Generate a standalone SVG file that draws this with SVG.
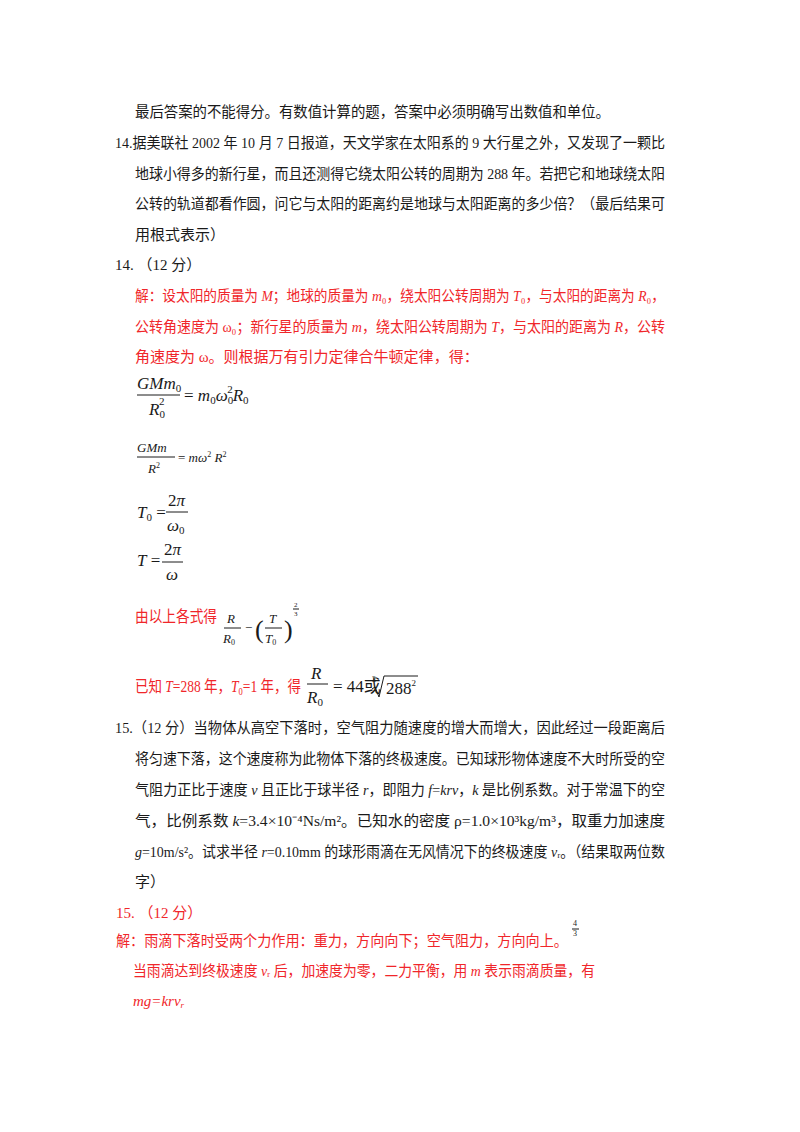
<svg xmlns="http://www.w3.org/2000/svg" width="800" height="1132" viewBox="0 0 800 1132" font-size="15">
<style>
text{font-family:"Liberation Serif","Noto Sans CJK SC",serif;fill:#1a1a1a}
.r{fill:#f0262a}
.i{font-style:italic}
.n{font-style:normal}
line{stroke:#1a1a1a;stroke-width:1}
</style>
<rect width="800" height="1132" fill="#fff"/>
<g id="problem14">
<text x="135" y="117" textLength="475" lengthAdjust="spacingAndGlyphs">最后答案的不能得分。有数值计算的题，答案中必须明确写出数值和单位。</text>
<text x="115" y="148" textLength="550" lengthAdjust="spacingAndGlyphs">14.据美联社 2002 年 10 月 7 日报道，天文学家在太阳系的 9 大行星之外，又发现了一颗比</text>
<text x="135" y="179" textLength="530" lengthAdjust="spacingAndGlyphs">地球小得多的新行星，而且还测得它绕太阳公转的周期为 288 年。若把它和地球绕太阳</text>
<text x="135" y="209" textLength="530" lengthAdjust="spacingAndGlyphs">公转的轨道都看作圆，问它与太阳的距离约是地球与太阳距离的多少倍？（最后结果可</text>
<text x="135" y="240">用根式表示）</text>
<text x="115" y="270">14. （12 分）</text>
</g>
<g id="solution14">
<text class="r" x="135" y="301" textLength="530" lengthAdjust="spacingAndGlyphs">解：设太阳的质量为 <tspan class="i">M</tspan>；地球的质量为 <tspan class="i">m</tspan>₀，绕太阳公转周期为 <tspan class="i">T</tspan>₀，与太阳的距离为 <tspan class="i">R</tspan>₀，</text>
<text class="r" x="135" y="332" textLength="530" lengthAdjust="spacingAndGlyphs">公转角速度为 ω₀；新行星的质量为 <tspan class="i">m</tspan>，绕太阳公转周期为 <tspan class="i">T</tspan>，与太阳的距离为 <tspan class="i">R</tspan>，公转</text>
<text class="r" x="135" y="362">角速度为 ω。则根据万有引力定律合牛顿定律，得：</text>
<g id="eq1">
<text x="137" y="389" class="i" font-size="17">GMm<tspan class="n" font-size="11" dy="3">0</tspan></text>
<line x1="137" y1="395" x2="180" y2="395"/>
<text x="149" y="415" class="i" font-size="17">R<tspan class="n" font-size="11" dy="3">0</tspan><tspan class="n" font-size="11" dx="-6" dy="-13">2</tspan></text>
<text x="184" y="401" font-size="17">= <tspan class="i">m</tspan><tspan font-size="11" dy="3">0</tspan><tspan class="i" dy="-3">ω</tspan><tspan font-size="11" dy="3">0</tspan><tspan font-size="11" dx="-6" dy="-11">2</tspan><tspan class="i" dy="8">R</tspan><tspan font-size="11" dy="3">0</tspan></text>
</g>
<g id="eq2">
<text x="137" y="452" class="i" font-size="13">GMm</text>
<line x1="137" y1="457" x2="175" y2="457"/>
<text x="148" y="473" class="i" font-size="13">R<tspan class="n" font-size="8" dy="-5">2</tspan></text>
<text x="178" y="462" font-size="13">= <tspan class="i">mω</tspan><tspan font-size="8" dy="-5">2</tspan><tspan class="i" dy="5"> R</tspan><tspan font-size="8" dy="-5">2</tspan></text>
</g>
<g id="eq3">
<text x="137" y="518" class="i" font-size="17">T<tspan class="n" font-size="11" dy="3">0</tspan><tspan class="n" dy="-3"> =</tspan></text>
<text x="168" y="506" font-size="17">2<tspan class="i">π</tspan></text>
<line x1="166" y1="512" x2="188" y2="512"/>
<text x="167" y="531" class="i" font-size="17">ω<tspan class="n" font-size="11" dy="3">0</tspan></text>
</g>
<g id="eq4">
<text x="137" y="566" class="i" font-size="17">T<tspan class="n"> =</tspan></text>
<text x="164" y="555" font-size="17">2<tspan class="i">π</tspan></text>
<line x1="162" y1="562" x2="183" y2="562"/>
<text x="166" y="580" class="i" font-size="17">ω</text>
</g>
<g id="eq5">
<text class="r" x="135" y="622" font-size="16" textLength="82" lengthAdjust="spacingAndGlyphs">由以上各式得</text>
<text x="227" y="623" class="i" font-size="13">R</text>
<line x1="224" y1="628" x2="241" y2="628"/>
<text x="223" y="643" class="i" font-size="13">R<tspan class="n" font-size="8" dy="2">0</tspan></text>
<text x="245" y="632" font-size="13">−</text>
<text x="255" y="638" font-size="26">(</text>
<text x="269" y="623" class="i" font-size="13">T</text>
<line x1="265" y1="628" x2="282" y2="628"/>
<text x="265" y="643" class="i" font-size="13">T<tspan class="n" font-size="8" dy="2">0</tspan></text>
<text x="284" y="638" font-size="26">)</text>
<text x="294" y="607" font-size="7">2</text>
<line x1="293" y1="609" x2="299" y2="609" stroke-width="0.6"/>
<text x="294" y="616" font-size="7">3</text>
</g>
<g id="eq6">
<text class="r" x="135" y="692" font-size="16" textLength="166" lengthAdjust="spacingAndGlyphs">已知 <tspan class="i">T</tspan>=288 年，<tspan class="i">T</tspan><tspan font-size="10" dy="3">0</tspan><tspan dy="-3">=1 年，得</tspan></text>
<text x="311" y="679" class="i" font-size="17">R</text>
<line x1="307" y1="684" x2="328" y2="684"/>
<text x="307" y="703" class="i" font-size="17">R<tspan class="n" font-size="11" dy="3">0</tspan></text>
<text x="333" y="692" font-size="17">= 44或</text>
<text x="372" y="682" font-size="8">3</text>
<path d="M372 689 L375 687 L379 697 L384 676 L418 676" fill="none" stroke="#1a1a1a" stroke-width="1"/>
<text x="386" y="694" font-size="17">288<tspan font-size="9" dy="-8">2</tspan></text>
</g>
</g>
<g id="problem15">
<text x="115" y="733" textLength="550" lengthAdjust="spacingAndGlyphs">15.（12 分）当物体从高空下落时，空气阻力随速度的增大而增大，因此经过一段距离后</text>
<text x="135" y="764" textLength="530" lengthAdjust="spacingAndGlyphs">将匀速下落，这个速度称为此物体下落的终极速度。已知球形物体速度不大时所受的空</text>
<text x="135" y="795" textLength="530" lengthAdjust="spacingAndGlyphs">气阻力正比于速度 <tspan class="i">v</tspan> 且正比于球半径 <tspan class="i">r</tspan>，即阻力 <tspan class="i">f</tspan>=<tspan class="i">krv</tspan>，<tspan class="i">k</tspan> 是比例系数。对于常温下的空</text>
<text x="135" y="826" textLength="530" lengthAdjust="spacingAndGlyphs">气，比例系数 <tspan class="i">k</tspan>=3.4×10⁻⁴Ns/m²。已知水的密度 ρ=1.0×10³kg/m³，取重力加速度</text>
<text x="135" y="857" textLength="530" lengthAdjust="spacingAndGlyphs"><tspan class="i">g</tspan>=10m/s²。试求半径 <tspan class="i">r</tspan>=0.10mm 的球形雨滴在无风情况下的终极速度 <tspan class="i">v</tspan>ᵣ。（结果取两位数</text>
<text x="135" y="887">字）</text>
</g>
<g id="solution15">
<text class="r" x="116" y="918">15. （12 分）</text>
<text class="r" x="116" y="946" textLength="452" lengthAdjust="spacingAndGlyphs">解：雨滴下落时受两个力作用：重力，方向向下；空气阻力，方向向上。</text>
<text x="573" y="926" font-size="8">4</text>
<line x1="572" y1="929" x2="579" y2="929" stroke-width="0.7"/>
<text x="573" y="936" font-size="8">3</text>
<text class="r" x="133" y="976" textLength="462" lengthAdjust="spacingAndGlyphs">当雨滴达到终极速度 <tspan class="i">v</tspan>ᵣ 后，加速度为零，二力平衡，用 <tspan class="i">m</tspan> 表示雨滴质量，有</text>
<text class="r i" x="133" y="1006">mg=krv<tspan font-size="9" dy="2">r</tspan></text>
</g>
</svg>
